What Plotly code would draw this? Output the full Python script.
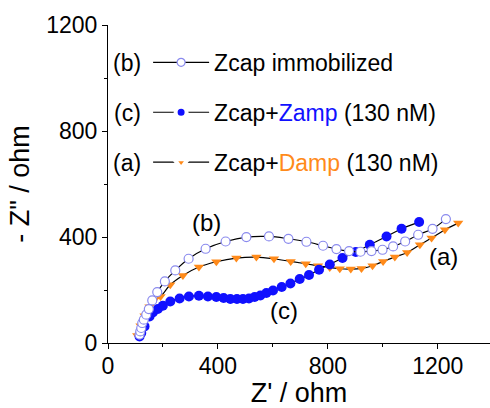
import plotly.graph_objects as go

# Series (b): Zcap immobilized
b_x = [114.8, 117.3, 121.0, 124.6, 130.4, 139.2, 148.6, 161.0, 179.2, 206.9, 244.8, 293.3, 355.2, 428.0,
       503.5, 585.8, 656.5, 722.0, 782.5, 831.3, 877.2, 918.8, 958.8, 998.9, 1037.5, 1081.2, 1128.6, 1181.0, 1229.5]
b_y = [31.3, 43.7, 56.6, 75.4, 88.0, 106.7, 128.0, 160.6, 192.3, 232.3, 273.8, 317.9, 355.6, 383.0,
       399.7, 402.0, 393.3, 382.0, 367.0, 354.5, 347.0, 344.3, 347.0, 351.8, 364.3, 383.1, 408.4, 431.0, 467.6]

# Series (c): Zcap + Zamp (130 nM)
c_x = [114.8, 120.9, 133.0, 151.2, 163.2, 181.4, 199.6, 226.6, 260.5, 294.4, 330.8, 363.6, 394.2, 420.8,
       445.2, 469.2, 491.1, 512.9, 533.7, 554.5, 576.3, 600.4, 632.1, 663.8, 697.6, 731.5, 768.0, 807.0,
       853.2, 901.6, 952.6, 1013.5, 1068.1, 1132.2]
c_y = [24.9, 37.7, 62.6, 100.3, 115.4, 128.2, 140.6, 156.9, 168.2, 175.7, 178.4, 175.7, 173.5, 169.7,
       165.9, 165.9, 165.9, 168.2, 173.5, 179.5, 188.5, 198.3, 211.2, 224.7, 241.3, 256.4, 276.4, 296.4,
       320.5, 343.1, 370.7, 402.0, 431.0, 456.3]

# Series (a): Zcap + Damp (130 nM)
a_x = [106.4, 118.4, 133.0, 151.0, 169.0, 191.3, 226.6, 272.5, 330.8, 394.2, 467.0, 539.9, 604.0, 664.8,
       719.5, 764.3, 806.9, 843.4, 883.4, 922.4, 962.5, 1001.1, 1043.7, 1088.5, 1134.8, 1177.4, 1225.9, 1274.3]
a_y = [28.7, 65.0, 103.0, 137.0, 163.0, 175.7, 219.8, 254.9, 286.6, 306.6, 320.5, 324.3, 317.9, 307.7,
       299.0, 291.5, 285.1, 280.2, 279.0, 281.3, 291.5, 307.7, 324.3, 341.6, 370.7, 395.9, 427.3, 452.5]

x_ticks = [0, 400, 800, 1200]
y_ticks = [0, 400, 800, 1200]

FONT = "Liberation Sans, Arial, sans-serif"
PURPLE = "#8a8aee"
BLUE = "#1010ff"
ORANGE = "#ff8a1a"

fig = go.Figure()

# data traces (drawn a, c, b so the open circles sit on top)
fig.add_trace(go.Scatter(
    x=a_x, y=a_y, mode="lines+markers", showlegend=False,
    line=dict(color="black", width=1.2, shape="spline"),
    marker=dict(symbol="triangle-down", size=9, color=ORANGE, line=dict(width=0))))
fig.add_trace(go.Scatter(
    x=c_x, y=c_y, mode="lines+markers", showlegend=False,
    line=dict(color="black", width=1.2, shape="spline"),
    marker=dict(symbol="circle", size=10, color=BLUE, line=dict(width=0))))
fig.add_trace(go.Scatter(
    x=b_x, y=b_y, mode="lines+markers", showlegend=False,
    line=dict(color="black", width=1.2, shape="spline"),
    marker=dict(symbol="circle", size=9, color="white", line=dict(width=1.2, color=PURPLE))))

# legend entries (no data of their own)
fig.add_trace(go.Scatter(
    x=[None], y=[None], mode="lines+markers", name="Zcap immobilized",
    line=dict(color="black", width=1.2),
    marker=dict(symbol="circle", size=8, color="white", line=dict(width=1.2, color=PURPLE)),
    legendrank=1, legendgroup="b"))
fig.add_trace(go.Scatter(
    x=[None], y=[None], mode="lines+markers",
    name="Zcap+<span style='color:#1010ff'>Zamp</span> (130 nM)",
    line=dict(color="black", width=1.2),
    marker=dict(symbol="circle", size=11, color=BLUE, line=dict(width=4, color="white")),
    legendrank=2, legendgroup="c"))
fig.add_trace(go.Scatter(
    x=[None], y=[None], mode="lines+markers",
    name="Zcap+<span style='color:#ff8a1a'>Damp</span> (130 nM)",
    line=dict(color="black", width=1.2),
    marker=dict(symbol="triangle-down", size=12, color=ORANGE, line=dict(width=4, color="white")),
    legendrank=3, legendgroup="a"))

annos = [
    dict(x=359, y=454, text="(b)"),
    dict(x=640, y=122, text="(c)"),
    dict(x=1222, y=325, text="(a)"),
]
for a in annos:
    fig.add_annotation(x=a["x"], y=a["y"], text=a["text"], showarrow=False,
                       font=dict(size=24, color="black", family=FONT))

for txt, yy in [("(b)", 0.880), ("(c)", 0.722), ("(a)", 0.566)]:
    fig.add_annotation(xref="paper", yref="paper", x=0.0916, y=yy, text=txt, showarrow=False,
                       xanchor="right", yanchor="middle",
                       font=dict(size=23, color="black", family=FONT))

fig.update_layout(
    width=490, height=408,
    margin=dict(l=108, r=0, t=25, b=65, autoexpand=False),
    paper_bgcolor="white", plot_bgcolor="white",
    font=dict(family=FONT, size=23, color="black"),
    showlegend=True,
    legend=dict(x=0.105, y=0.95, xanchor="left", yanchor="top",
                bgcolor="rgba(0,0,0,0)", font=dict(size=23, family=FONT, color="black"),
                traceorder="grouped", tracegroupgap=17, itemwidth=56),
    xaxis=dict(range=[0, 1390], tickvals=x_ticks, ticktext=[str(v) for v in x_ticks],
               automargin=False, ticklabelstandoff=-3,
               showgrid=False, zeroline=False, showline=True, linecolor="black", linewidth=1,
               ticks="outside", ticklen=5, tickcolor="black",
               minor=dict(ticks="outside", ticklen=3, tickvals=[200, 600, 1000], tickcolor="black"),
               title=dict(text="Z' / ohm", font=dict(size=27, family=FONT), standoff=6),
               tickfont=dict(size=23, family=FONT)),
    yaxis=dict(range=[0, 1200], tickvals=y_ticks, ticktext=[str(v) for v in y_ticks],
               automargin=False,
               showgrid=False, zeroline=False, showline=True, linecolor="black", linewidth=1,
               ticks="outside", ticklen=5, tickcolor="black",
               minor=dict(ticks="outside", ticklen=3, tickvals=[200, 600, 1000], tickcolor="black"),
               title=dict(text='- Z" / ohm', font=dict(size=27, family=FONT), standoff=8),
               tickfont=dict(size=23, family=FONT)),
)

fig.write_html("out.html", config={"displayModeBar": False},
               post_script="document.body.style.margin='0';document.body.style.padding='0';")
